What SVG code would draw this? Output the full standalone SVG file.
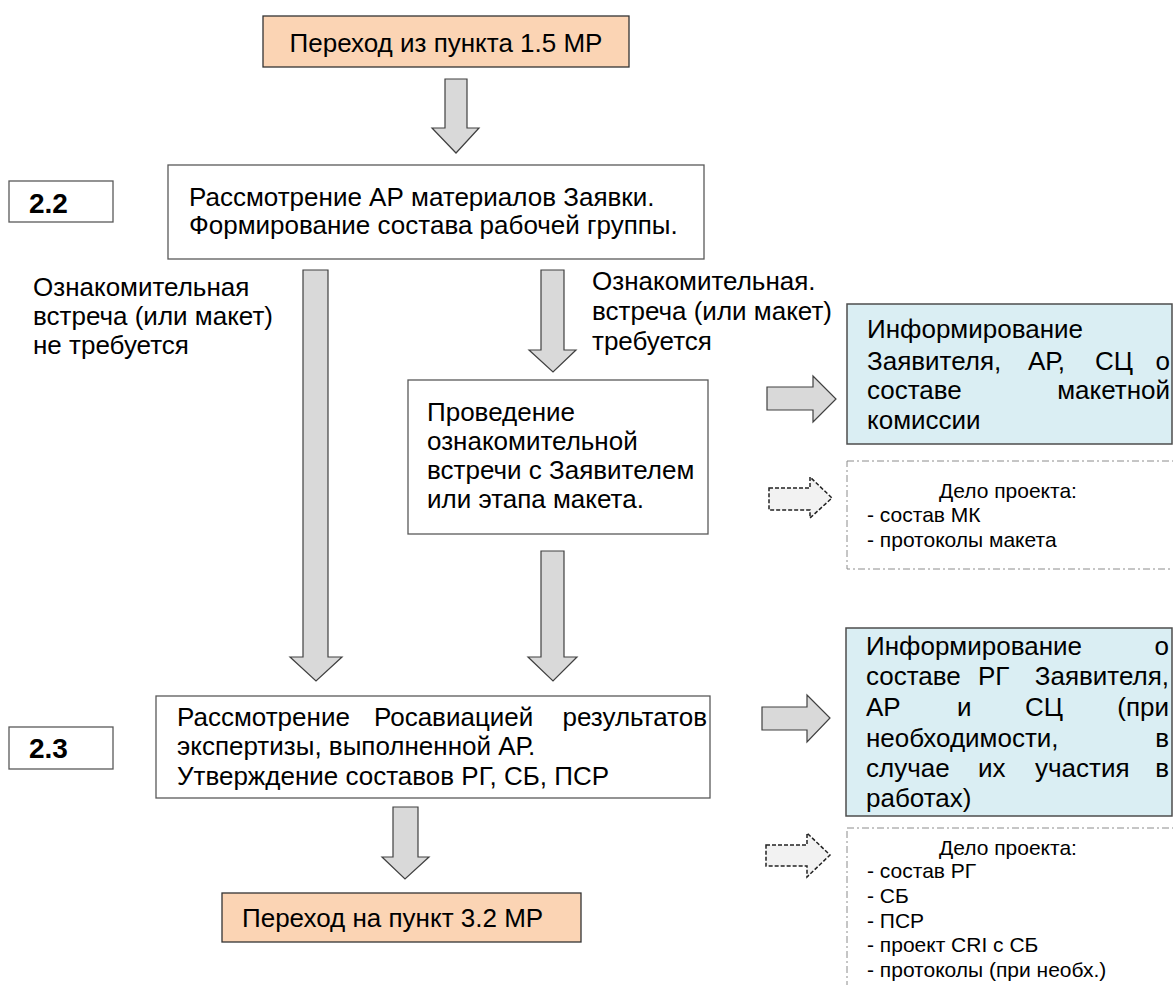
<svg xmlns="http://www.w3.org/2000/svg" width="1173" height="985" viewBox="0 0 1173 985">
<style>
text{font-family:"Liberation Sans",Arial,sans-serif;fill:#000}
.t{font-size:26px}
.s{font-size:21px}
.b{font-size:28px;font-weight:bold}
.box{fill:#fff;stroke:#595959;stroke-width:1.3}
.peach{fill:#fbd4b4;stroke:#333;stroke-width:1.3}
.blue{fill:#daeef3;stroke:#4d4d4d;stroke-width:1.5}
.dash{fill:#fff;stroke:#8c8c8c;stroke-width:1;stroke-dasharray:7 3 2 3}
.arr{fill:#d9d9d9;stroke:#404040;stroke-width:1.2}
.darr{fill:#f2f2f2;stroke:#222;stroke-width:1.5;stroke-dasharray:4 2}
</style>
<rect width="1173" height="985" fill="#fff"/>

<g id="connectors">
<polygon class="arr" points="445,79 467,79 467,128 479,128 456,153 432,128 445,128"/>
<polygon class="arr" points="303,270 328,270 328,657 342,657 316,681 290,657 303,657"/>
<polygon class="arr" points="541,270 564,270 564,350 576,350 553,372 529,350 541,350"/>
<polygon class="arr" points="541,551 564,551 564,657 577,657 553,681 528,657 541,657"/>
<polygon class="arr" points="393,807 418,807 418,857 429,857 405,879 382,857 393,857"/>
<polygon class="arr" points="767,387 813,387 813,376 836,399 813,422 813,410 767,410"/>
<polygon class="arr" points="762,707 807,707 807,695 830,718 807,742 807,730 762,730"/>
<polygon class="darr" points="769,488 810,488 810,477 832,498 810,518 810,510 769,510"/>
<polygon class="darr" points="766,845 807,845 807,833 830,855 807,877 807,866 766,866"/>
</g>

<g id="start">
<rect class="peach" x="263" y="16" width="366" height="51"/>
<text class="t" x="446" y="52" text-anchor="middle">Переход из пункта 1.5 МР</text>
</g>

<g id="label22">
<rect class="box" x="9" y="181" width="104" height="41"/>
<text class="b" x="29" y="213">2.2</text>
</g>

<g id="step22">
<rect class="box" x="168" y="165" width="536" height="94"/>
<text class="t" x="189" y="206">Рассмотрение АР материалов Заявки.</text>
<text class="t" x="189" y="234">Формирование состава рабочей группы.</text>
</g>

<g id="label-no">
<text class="t" x="33" y="296">Ознакомительная</text>
<text class="t" x="33" y="325">встреча (или макет)</text>
<text class="t" x="33" y="354">не требуется</text>
</g>

<g id="label-yes">
<text class="t" x="592" y="290">Ознакомительная.</text>
<text class="t" x="592" y="320">встреча (или макет)</text>
<text class="t" x="592" y="350">требуется</text>
</g>

<g id="meeting">
<rect class="box" x="408" y="380" width="300" height="154"/>
<text class="t" x="427" y="421">Проведение</text>
<text class="t" x="427" y="450">ознакомительной</text>
<text class="t" x="427" y="479">встречи с Заявителем</text>
<text class="t" x="427" y="508">или этапа макета.</text>
</g>

<g id="inform1">
<rect class="blue" x="847" y="304" width="325" height="140"/>
<text class="t" x="867" y="338">Информирование</text>
<text class="t" x="867" y="370">Заявителя,</text>
<text class="t" x="1028" y="370">АР,</text>
<text class="t" x="1095" y="370">СЦ</text>
<text class="t" x="1170" y="370" text-anchor="end">о</text>
<text class="t" x="867" y="399">составе</text>
<text class="t" x="1170" y="399" text-anchor="end">макетной</text>
<text class="t" x="867" y="429">комиссии</text>
</g>

<g id="file1">
<rect class="dash" x="847" y="461" width="330" height="108"/>
<text class="s" x="939" y="498">Дело проекта:</text>
<text class="s" x="867" y="522">- состав МК</text>
<text class="s" x="867" y="547">- протоколы макета</text>
</g>

<g id="label23">
<rect class="box" x="9" y="727" width="104" height="42"/>
<text class="b" x="29" y="758">2.3</text>
</g>

<g id="step23">
<rect class="box" x="156" y="696" width="554" height="102"/>
<text class="t" x="177" y="726">Рассмотрение</text>
<text class="t" x="374" y="726">Росавиацией</text>
<text class="t" x="707" y="726" text-anchor="end">результатов</text>
<text class="t" x="177" y="755">экспертизы, выполненной АР.</text>
<text class="t" x="177" y="785">Утверждение составов РГ, СБ, ПСР</text>
</g>

<g id="inform2">
<rect class="blue" x="846" y="628" width="326" height="188"/>
<text class="t" x="866" y="655">Информирование</text>
<text class="t" x="1169" y="655" text-anchor="end">о</text>
<text class="t" x="866" y="685">составе</text>
<text class="t" x="978" y="685">РГ</text>
<text class="t" x="1169" y="685" text-anchor="end">Заявителя,</text>
<text class="t" x="866" y="716">АР</text>
<text class="t" x="957" y="716">и</text>
<text class="t" x="1025" y="716">СЦ</text>
<text class="t" x="1169" y="716" text-anchor="end">(при</text>
<text class="t" x="866" y="747">необходимости,</text>
<text class="t" x="1169" y="747" text-anchor="end">в</text>
<text class="t" x="866" y="777">случае</text>
<text class="t" x="978" y="777">их</text>
<text class="t" x="1035" y="777">участия</text>
<text class="t" x="1169" y="777" text-anchor="end">в</text>
<text class="t" x="866" y="807">работах)</text>
</g>

<g id="file2">
<rect class="dash" x="847" y="828" width="330" height="170"/>
<text class="s" x="939" y="855">Дело проекта:</text>
<text class="s" x="867" y="878">- состав РГ</text>
<text class="s" x="867" y="903">- СБ</text>
<text class="s" x="867" y="928">- ПСР</text>
<text class="s" x="867" y="952">- проект CRI с СБ</text>
<text class="s" x="867" y="977">- протоколы (при необх.)</text>
</g>

<g id="end">
<rect class="peach" x="222" y="893" width="359" height="49"/>
<text class="t" x="242" y="927">Переход на пункт 3.2 МР</text>
</g>
</svg>
